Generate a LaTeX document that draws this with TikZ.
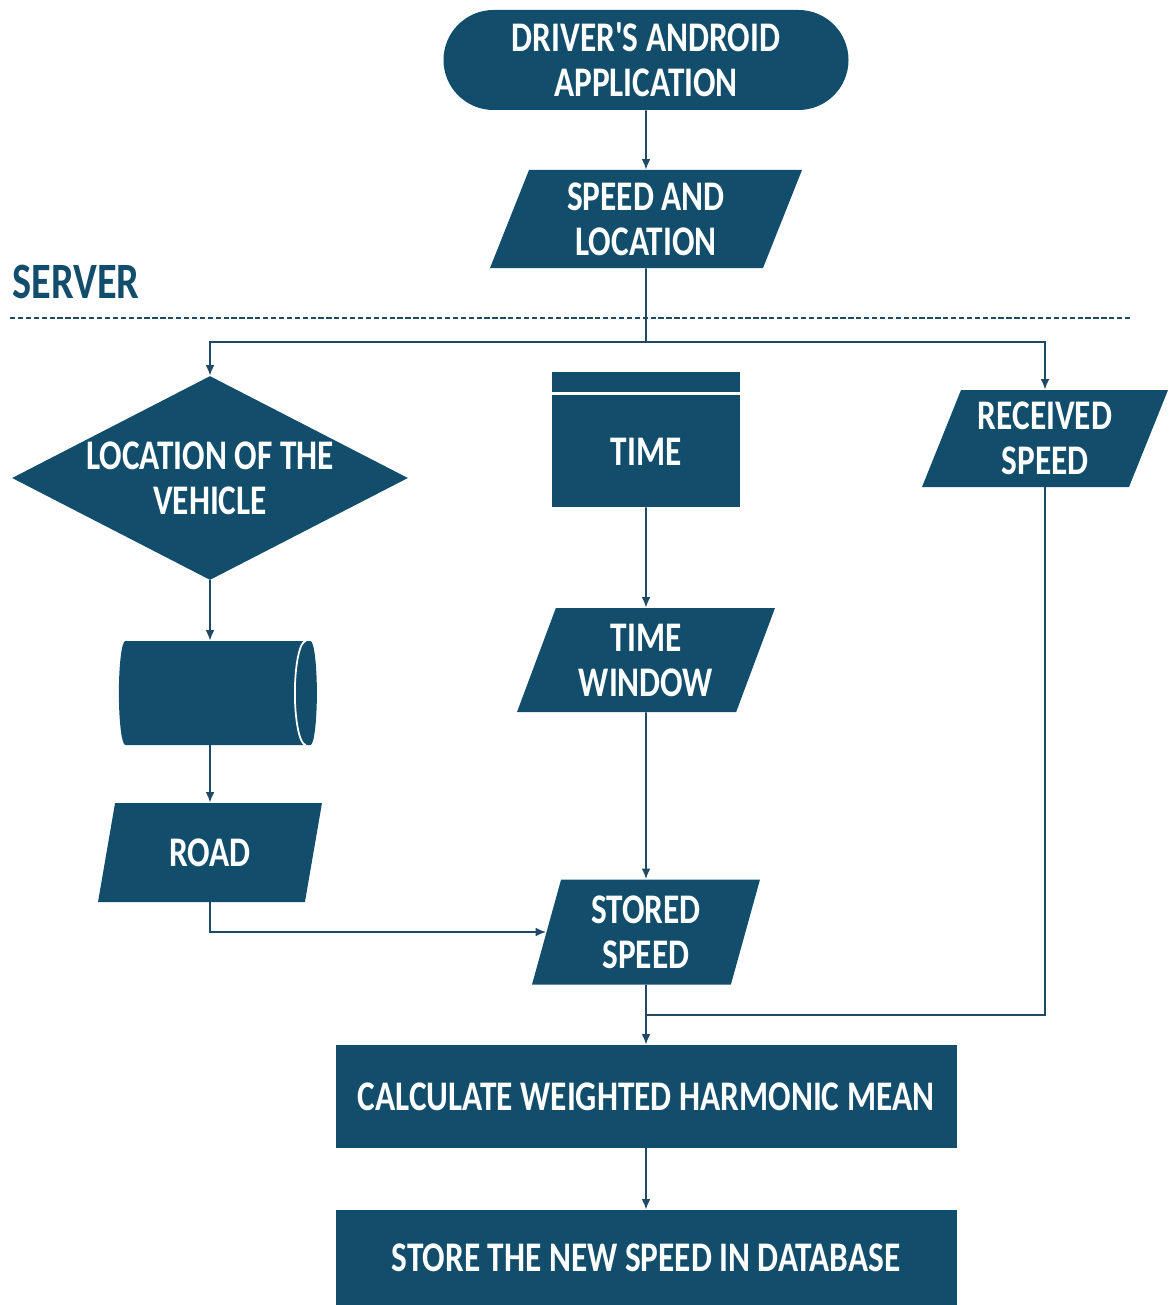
\documentclass[tikz,border=0pt]{standalone}
\usepackage{fontspec}
\newfontfamily\chartfont{Carlito}[FakeStretch=0.79]
\usepackage{tikz}
\usetikzlibrary{arrows.meta,shapes.geometric,positioning,calc}
\definecolor{flowblue}{RGB}{18,78,108}
\definecolor{flowline}{RGB}{32,74,100}

\begin{document}
\begin{tikzpicture}[
    box/.style={rectangle, fill=flowblue, text=white, inner sep=2pt, align=center, font=\chartfont\bfseries\fontsize{24}{25.6}\selectfont},
    term/.style={box, rounded corners=1cm, minimum width=8.1cm, minimum height=2cm},
    proc/.style={box, minimum width=12.42cm, minimum height=2.06cm},
    data/.style={box, trapezium, trapezium stretches body, trapezium left angle=64, trapezium right angle=116, minimum height=2cm},
    decision/.style={box, diamond, inner sep=0pt, minimum width=7.92cm, minimum height=4.08cm},
    timebox/.style={box, minimum width=3.76cm, minimum height=2.7cm,
        path picture={\fill[white] ([yshift=-0.4cm]path picture bounding box.north west) rectangle ([yshift=-0.46cm]path picture bounding box.north east);}},
    disk/.style={cylinder, shape border rotate=0, aspect=1.1, fill=flowblue, minimum width=2.08cm, minimum height=3.96cm,
        path picture={\draw[white, line width=1pt] ([xshift=-0.22cm]path picture bounding box.north east) arc[start angle=90, end angle=270, x radius=0.22cm, y radius=1.04cm];}},
    arr/.style={-{Latex[length=6pt, width=5pt]}, line width=1pt, draw=flowline},
    link/.style={line width=1pt, draw=flowline}
]
\useasboundingbox (0,0) rectangle (23.4,-26.1);

\node[term] (app) at (12.92,-1.2) {DRIVER'S ANDROID\\APPLICATION};
\node[data, minimum width=6.24cm, minimum height=1.96cm] (sal) at (12.92,-4.38) {SPEED AND\\LOCATION};
\node[font=\chartfont\bfseries\fontsize{29}{31}\selectfont, text=flowblue, inner sep=0pt] (server) at (1.52,-5.64) {SERVER};
\draw[flowline, line width=1.1pt, dash pattern=on 3pt off 1.5pt] (0.2,-6.36) -- (22.6,-6.36);
\coordinate (split) at (12.92,-6.84);

\node[decision] (loc) at (4.2,-9.56) {\makebox[0pt]{LOCATION OF THE}\\\makebox[0pt]{VEHICLE}};
\node[timebox] (time) at (12.92,-8.79) {\raisebox{-0.24cm}[\height][\depth]{TIME}};
\node[data, minimum width=4.92cm, minimum height=1.94cm] (recv) at (20.9,-8.77) {RECEIVED\\SPEED};

\node[disk] (road db) at (4.26,-13.86) {};
\node[data, minimum width=5.16cm, minimum height=2.08cm] (twin) at (12.92,-13.2) {TIME\\WINDOW};
\node[data, minimum width=4.48cm, minimum height=1.98cm] (road) at (4.2,-17.05) {ROAD};
\node[data, trapezium left angle=70, trapezium right angle=110, minimum width=4.56cm, minimum height=2.1cm] (stored) at (12.92,-18.64) {STORED\\SPEED};
\coordinate (join) at (12.92,-20.3);

\node[proc] (calc) at (12.92,-21.93) {CALCULATE WEIGHTED HARMONIC MEAN};
\node[proc, minimum height=1.9cm] (store) at (12.92,-25.15) {STORE THE NEW SPEED IN DATABASE};

\draw[arr] (app) -- (sal);
\draw[link] (sal.south) -- (split);
\draw[arr] (split) -| (loc.north);
\draw[arr] (split) -| (recv.north);
\draw[arr] (loc.south) -- (loc.south |- road db.north);
\draw[arr] (road.north |- road db.south) -- (road.north);
\draw[arr] (road.south) |- (stored.west);
\draw[arr] (time) -- (twin);
\draw[arr] (twin) -- (stored);
\draw[link] (recv.south) |- (join);
\draw[arr] (stored) -- (calc);
\draw[arr] (calc) -- (store);
\end{tikzpicture}
\end{document}
